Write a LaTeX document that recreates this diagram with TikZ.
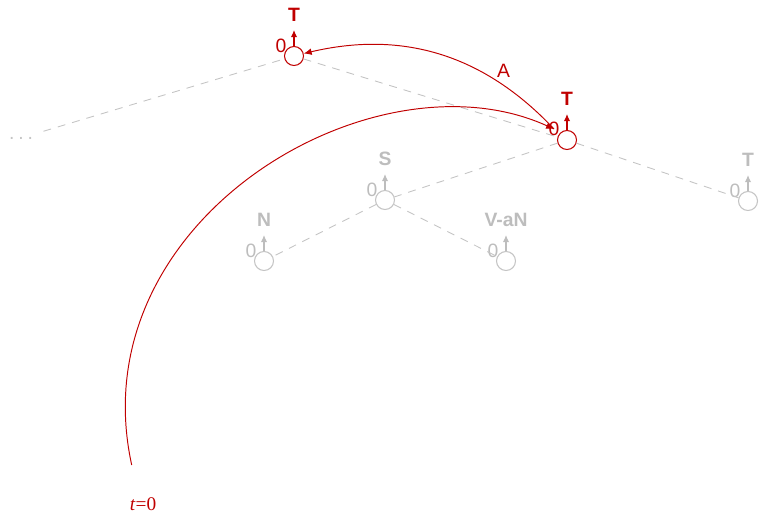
\documentclass[tikz,border=0pt]{standalone}
\usepackage{fontspec}
\setmainfont{Liberation Serif}
\setsansfont{Liberation Sans}
\usetikzlibrary{arrows.meta, positioning, calc}
\definecolor{treered}{HTML}{C00000}
\definecolor{treegray}{HTML}{BDBDBD}
\definecolor{edgegray}{HTML}{C4C4C4}

\begin{document}
\begin{tikzpicture}[
  x=0.02cm, y=-0.02cm,
  tnode/.style={draw, circle, minimum size=0.38cm, inner sep=0pt, fill=white, line width=0.6pt},
  catlab/.style={font=\fontsize{11}{13}\selectfont\sffamily\bfseries},
  zlab/.style={font=\fontsize{11}{13}\selectfont\sffamily, inner sep=0pt},
  uparr/.style={-{Latex[length=4pt,width=3.6pt]}, line width=0.7pt},
  dep/.style={edgegray, line width=0.5pt, dash pattern=on 4.5pt off 4pt},
  redarr/.style={-{Latex[length=4.5pt,width=3.8pt]}, treered, line width=0.55pt}
]
  \useasboundingbox (0,0) rectangle (759,517);

  % red nodes -- the two T's
  \node[tnode, draw=treered] (tt) at (294,56) {};
  \node[zlab, treered] (tt0) at ($(tt)+(-13,-10)$) {0};
  \draw[uparr, treered] (tt.north) -- ++(0,-16) coordinate (tt up);
  \node[catlab, treered] (tt lab) at ($(tt)+(0,-41)$) {T};

  \node[tnode, draw=treered] (rt) at (567,140) {};
  \node[zlab, treered] (rt0) at ($(rt)+(-13,-11)$) {0};
  \draw[uparr, treered] (rt.north) -- ++(0,-16) coordinate (rt up);
  \node[catlab, treered] (rt lab) at ($(rt)+(0,-41)$) {T};

  % grey nodes
  \foreach \nm/\cat/\cx/\cy in {st/S/385/200, nt/N/264/261, vt/V-aN/506/261, ft/T/748/201} {
    \node[tnode, draw=edgegray] (\nm) at (\cx,\cy) {};
    \node[zlab, treegray] (\nm0) at ($(\nm)+(-13,-10)$) {0};
    \draw[uparr, treegray] (\nm.north) -- ++(0,-16) coordinate (\nm up);
    \node[catlab, treegray] (\nm lab) at ($(\nm)+(0,-41)$) {\cat};
  }

  \node[edgegray, font=\fontsize{11}{13}\selectfont\sffamily, inner sep=1pt, outer sep=5pt] (dots) at (21,138) {.\kern2.2pt.\kern2.2pt.};

  % dashed tree edges
  \draw[dep] (dots) -- (tt);
  \draw[dep] (tt) -- (rt);
  \draw[dep] (rt) -- (st);
  \draw[dep] (rt) -- (ft);
  \draw[dep] (st) -- (nt);
  \draw[dep] (st) -- (vt);

  % time label and the red arcs
  \node[treered, font=\fontsize{11}{13}\selectfont] (tzero) at (143,504) {\textit{t}=0};
  \coordinate (tstart) at (131.7,465);
  \draw[redarr] (tstart) .. controls (78,220) and (374,47) .. (rt0.center);
  \draw[redarr] (rt0.center) to[bend right=30]
    node[pos=0.27, anchor=south west, inner sep=1pt, font=\fontsize{11}{13}\selectfont\sffamily] (alab) {A} (tt);
\end{tikzpicture}
\end{document}
